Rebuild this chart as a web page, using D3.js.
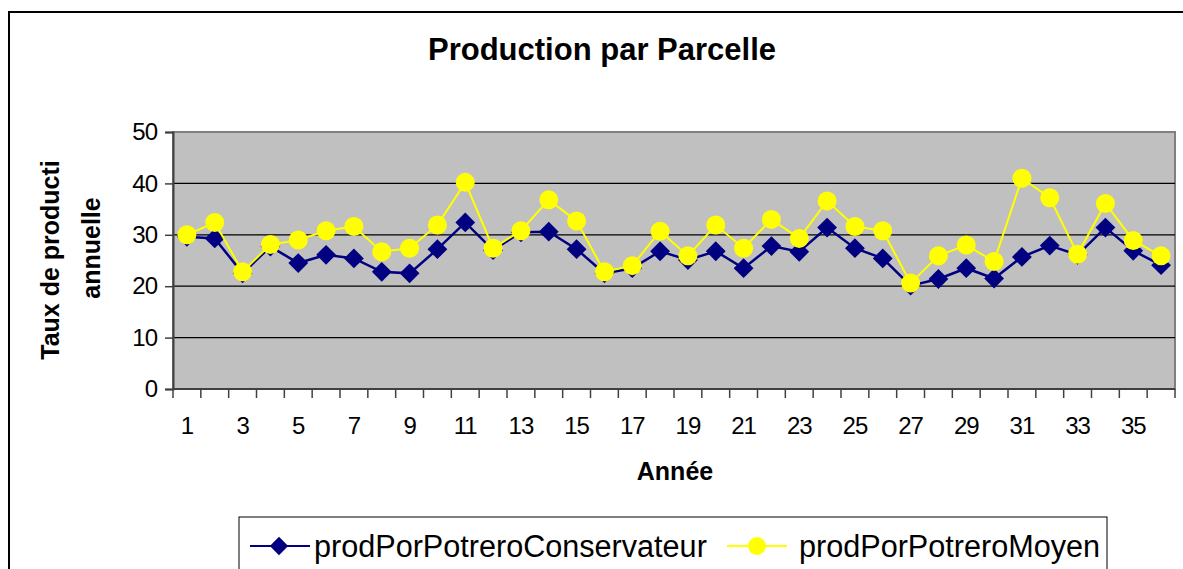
<!DOCTYPE html>
<html>
<head>
<meta charset="utf-8">
<script src="https://cdn.jsdelivr.net/npm/d3@7"></script>
<style>
  body { margin: 0; background: #fff; }
  svg text { font-family: Arial, "Liberation Sans", sans-serif; }
</style>
</head>
<body>
<div id="chart"></div>
<script>
// Data
const years = d3.range(1, 37);
const conservateur = [29.6, 29.3, 22.5, 27.7, 24.5, 26.1, 25.4, 22.8, 22.5, 27.2, 32.4, 27.0,
  30.5, 30.6, 27.2, 22.5, 23.5, 26.8, 25.1, 26.8, 23.5, 27.8, 26.7, 31.4,
  27.4, 25.4, 20.1, 21.4, 23.5, 21.5, 25.7, 27.9, 26.1, 31.4, 26.9, 24.1];
const moyen = [30.0, 32.4, 22.8, 28.1, 29.0, 30.8, 31.6, 26.7, 27.4, 31.9, 40.2, 27.4,
  30.8, 36.8, 32.7, 22.8, 24.0, 30.7, 25.9, 31.9, 27.4, 33.0, 29.3, 36.6,
  31.6, 30.8, 20.6, 25.9, 28.0, 24.8, 41.0, 37.2, 26.2, 36.1, 28.9, 25.9];
const yTicks = [0, 10, 20, 30, 40, 50];
const seriesNames = ["prodPorPotreroConservateur", "prodPorPotreroMoyen"];

// Style properties
const size = { width: 1183, height: 569 };
const plot = { left: 173, right: 1175, top: 132, bottom: 389 };
const navy = "#000080";
const yellow = "#ffff00";

const svg = d3.select("#chart").append("svg")
  .attr("width", size.width)
  .attr("height", size.height);

// outer frame
svg.append("rect")
  .attr("x", 9).attr("y", 12)
  .attr("width", 1200).attr("height", 600)
  .attr("fill", "#fff").attr("stroke", "#000").attr("stroke-width", 2);

// Scales
const xScale = d3.scaleBand(years, [plot.left, plot.right]);
const yScale = d3.scaleLinear([0, 50], [plot.bottom, plot.top]);
const xc = (d) => xScale(d) + xScale.bandwidth() / 2;

// plot area
svg.append("rect")
  .attr("x", plot.left).attr("y", plot.top)
  .attr("width", plot.right - plot.left).attr("height", plot.bottom - plot.top)
  .attr("fill", "#c0c0c0").attr("stroke", "#808080").attr("stroke-width", 2);

// gridlines
svg.append("g")
  .selectAll("line")
  .data(yTicks.filter((d) => d > 0 && d < 50))
  .join("line")
  .attr("x1", plot.left).attr("x2", plot.right)
  .attr("y1", (d) => yScale(d)).attr("y2", (d) => yScale(d))
  .attr("stroke", "#000").attr("stroke-width", 1.3);

// Axes
const yAxis = svg.append("g")
  .attr("transform", `translate(${plot.left},0)`)
  .call(d3.axisLeft(yScale).tickValues(yTicks).tickSize(8).tickPadding(8));
yAxis.select(".domain").attr("stroke", "#404040").attr("stroke-width", 2);
yAxis.selectAll(".tick line").attr("stroke", "#404040").attr("stroke-width", 1.5);
yAxis.selectAll(".tick text")
  .attr("font-size", 24).attr("fill", "#000").attr("letter-spacing", -1)
  .attr("font-family", "Arial, 'Liberation Sans', sans-serif");

const xAxis = svg.append("g")
  .attr("transform", `translate(0,${plot.bottom})`);
xAxis.append("line")
  .attr("x1", plot.left).attr("x2", plot.right)
  .attr("stroke", "#404040").attr("stroke-width", 2);
xAxis.selectAll("line.tk")
  .data(years.concat([37]))
  .join("line")
  .attr("class", "tk")
  .attr("x1", (d) => d <= 36 ? xScale(d) : plot.right)
  .attr("x2", (d) => d <= 36 ? xScale(d) : plot.right)
  .attr("y1", 0).attr("y2", 9)
  .attr("stroke", "#404040").attr("stroke-width", 1.5);
xAxis.selectAll("text")
  .data(years.filter((d) => d % 2 === 1))
  .join("text")
  .attr("x", xc).attr("y", 45)
  .attr("text-anchor", "middle")
  .attr("font-size", 24).attr("letter-spacing", -1)
  .text((d) => d);

// Titles
svg.append("text")
  .attr("x", 602).attr("y", 60)
  .attr("text-anchor", "middle")
  .attr("font-size", 31).attr("font-weight", "bold")
  .text("Production par Parcelle");

svg.append("text")
  .attr("x", 675).attr("y", 480)
  .attr("text-anchor", "middle")
  .attr("font-size", 25).attr("font-weight", "bold")
  .text("Année");

svg.append("text")
  .attr("transform", "translate(59,260) rotate(-90)")
  .attr("text-anchor", "middle")
  .attr("font-size", 25).attr("font-weight", "bold")
  .text("Taux de producti");
svg.append("text")
  .attr("transform", "translate(100,248) rotate(-90)")
  .attr("text-anchor", "middle")
  .attr("font-size", 25).attr("font-weight", "bold")
  .text("annuelle");

// Lines
const line = (vals) => d3.line()
  .x((d, i) => xc(years[i]))
  .y((d) => yScale(d))(vals);

svg.append("path")
  .attr("d", line(conservateur))
  .attr("fill", "none").attr("stroke", navy).attr("stroke-width", 2.5);
svg.append("g")
  .selectAll("rect")
  .data(conservateur)
  .join("rect")
  .attr("x", -7).attr("y", -7).attr("width", 14).attr("height", 14)
  .attr("transform", (d, i) => `translate(${xc(years[i])},${yScale(d)}) rotate(45)`)
  .attr("fill", navy);

svg.append("path")
  .attr("d", line(moyen))
  .attr("fill", "none").attr("stroke", yellow).attr("stroke-width", 2);
svg.append("g")
  .selectAll("circle")
  .data(moyen)
  .join("circle")
  .attr("cx", (d, i) => xc(years[i]))
  .attr("cy", (d) => yScale(d))
  .attr("r", 9.5)
  .attr("fill", yellow);

// Legend
const legend = svg.append("g");
legend.append("rect")
  .attr("x", 239).attr("y", 517)
  .attr("width", 868).attr("height", 80)
  .attr("fill", "#fff").attr("stroke", "#000").attr("stroke-width", 1);

const legendItems = [
  { name: seriesNames[0], x: 250, tx: 64, color: navy, shape: "diamond" },
  { name: seriesNames[1], x: 727, tx: 72, color: yellow, shape: "circle" },
];
legendItems.forEach((it) => {
  const g = legend.append("g").attr("transform", `translate(${it.x},546)`);
  g.append("line").attr("x1", 0).attr("x2", 60)
    .attr("stroke", it.color).attr("stroke-width", 2);
  if (it.shape === "diamond") {
    g.append("rect").attr("x", -6.5).attr("y", -6.5).attr("width", 13).attr("height", 13)
      .attr("transform", "translate(29,0) rotate(45)").attr("fill", it.color);
  } else {
    g.append("circle").attr("cx", 30).attr("r", 9).attr("fill", it.color);
  }
  g.append("text").attr("x", it.tx).attr("y", 11)
    .attr("font-size", 30.6)
    .text(it.name);
});
</script>
</body>
</html>
